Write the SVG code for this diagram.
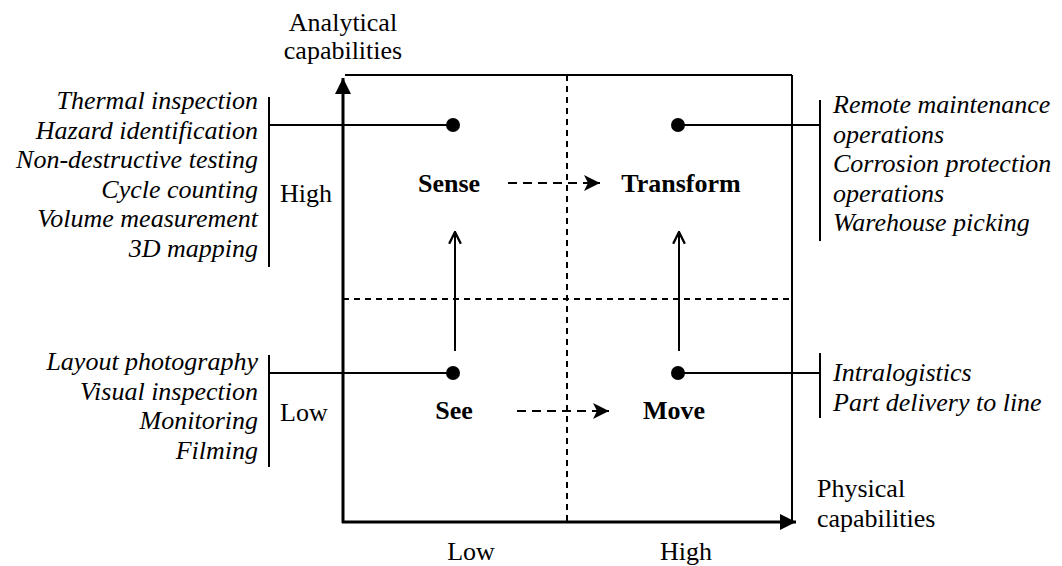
<svg xmlns="http://www.w3.org/2000/svg" width="1062" height="566" viewBox="0 0 1062 566">
<style>
.it{font-style:italic}
.b{font-weight:bold}
.ln{stroke:#000;stroke-width:2;fill:none}
.ax{stroke:#000;stroke-width:3;fill:none}
.ds{stroke:#000;stroke-width:2;fill:none;stroke-dasharray:6 5}
.da{stroke:#000;stroke-width:2.2;fill:none;stroke-dasharray:9 6}
</style>
<defs>
<marker id="tri" viewBox="0 0 10 10" refX="10" refY="5" markerWidth="16" markerHeight="16" markerUnits="userSpaceOnUse" orient="auto"><path d="M0,0 L10,5 L0,10 Z" fill="#000"/></marker>
<marker id="open" viewBox="0 0 12 12" refX="11" refY="6" markerWidth="14" markerHeight="14" markerUnits="userSpaceOnUse" orient="auto"><path d="M1,1 L11,6 L1,11" fill="none" stroke="#000" stroke-width="2"/></marker>
<marker id="notch" viewBox="0 0 12 12" refX="12" refY="6" markerWidth="16" markerHeight="16" markerUnits="userSpaceOnUse" orient="auto"><path d="M0,0 L12,6 L0,12 L3,6 Z" fill="#000"/></marker>
</defs>
<g font-family="Liberation Serif, Tinos, Times New Roman, Nimbus Roman, DejaVu Serif, serif" font-size="26" fill="#000">
<g id="grid">
<line class="ln" x1="345" y1="75" x2="792" y2="75"/>
<line class="ln" x1="792" y1="75" x2="792" y2="522"/>
<line class="ds" x1="567" y1="75" x2="567" y2="522"/>
<line class="ds" x1="343" y1="299" x2="792" y2="299"/>
</g>
<g id="axes">
<line class="ax" x1="343" y1="523" x2="343" y2="78" marker-end="url(#tri)"/>
<line class="ax" x1="342" y1="522" x2="796" y2="522" marker-end="url(#tri)"/>
<text x="343" y="31" text-anchor="middle">Analytical</text>
<text x="343" y="59" text-anchor="middle">capabilities</text>
<text x="817" y="497">Physical</text>
<text x="817" y="527">capabilities</text>
<text x="471" y="560" text-anchor="middle">Low</text>
<text x="686" y="560" text-anchor="middle">High</text>
<text x="280" y="202">High</text>
<text x="280" y="421">Low</text>
</g>
<g id="connectors">
<line class="ln" x1="270" y1="125" x2="453" y2="125"/>
<line class="ln" x1="678" y1="125" x2="820" y2="125"/>
<line class="ln" x1="270" y1="373" x2="453" y2="373"/>
<line class="ln" x1="678" y1="373" x2="820" y2="373"/>
<line class="ln" x1="455" y1="351" x2="455" y2="232" marker-end="url(#open)"/>
<line class="ln" x1="679" y1="351" x2="679" y2="232" marker-end="url(#open)"/>
<line class="da" x1="508" y1="183" x2="600" y2="183" marker-end="url(#notch)"/>
<line class="da" x1="517" y1="411" x2="609" y2="411" marker-end="url(#notch)"/>
</g>
<g id="sense">
<circle cx="453" cy="125" r="7"/>
<text class="b" x="449" y="192" text-anchor="middle">Sense</text>
</g>
<g id="transform">
<circle cx="678" cy="125" r="7"/>
<text class="b" x="681" y="192" text-anchor="middle">Transform</text>
</g>
<g id="see">
<circle cx="453" cy="373" r="7"/>
<text class="b" x="454" y="419" text-anchor="middle">See</text>
</g>
<g id="move">
<circle cx="678" cy="373" r="7"/>
<text class="b" x="674" y="419" text-anchor="middle">Move</text>
</g>
<g id="list-high-left">
<line class="ln" x1="269" y1="97" x2="269" y2="267"/>
<text class="it" text-anchor="end" x="258" y="109">Thermal inspection</text>
<text class="it" text-anchor="end" x="258" y="138.5">Hazard identification</text>
<text class="it" text-anchor="end" x="258" y="168">Non-destructive testing</text>
<text class="it" text-anchor="end" x="258" y="197.5">Cycle counting</text>
<text class="it" text-anchor="end" x="258" y="227">Volume measurement</text>
<text class="it" text-anchor="end" x="258" y="256.5">3D mapping</text>
</g>
<g id="list-low-left">
<line class="ln" x1="269" y1="355" x2="269" y2="467"/>
<text class="it" text-anchor="end" x="258" y="370">Layout photography</text>
<text class="it" text-anchor="end" x="258" y="399.5">Visual inspection</text>
<text class="it" text-anchor="end" x="258" y="429">Monitoring</text>
<text class="it" text-anchor="end" x="258" y="458.5">Filming</text>
</g>
<g id="list-high-right">
<line class="ln" x1="820" y1="100" x2="820" y2="241"/>
<text class="it" x="833" y="113">Remote maintenance</text>
<text class="it" x="833" y="142.5">operations</text>
<text class="it" x="833" y="172">Corrosion protection</text>
<text class="it" x="833" y="201.5">operations</text>
<text class="it" x="833" y="231">Warehouse picking</text>
</g>
<g id="list-low-right">
<line class="ln" x1="820" y1="353" x2="820" y2="418"/>
<text class="it" x="833" y="381">Intralogistics</text>
<text class="it" x="833" y="410.5">Part delivery to line</text>
</g>
</g>
</svg>
